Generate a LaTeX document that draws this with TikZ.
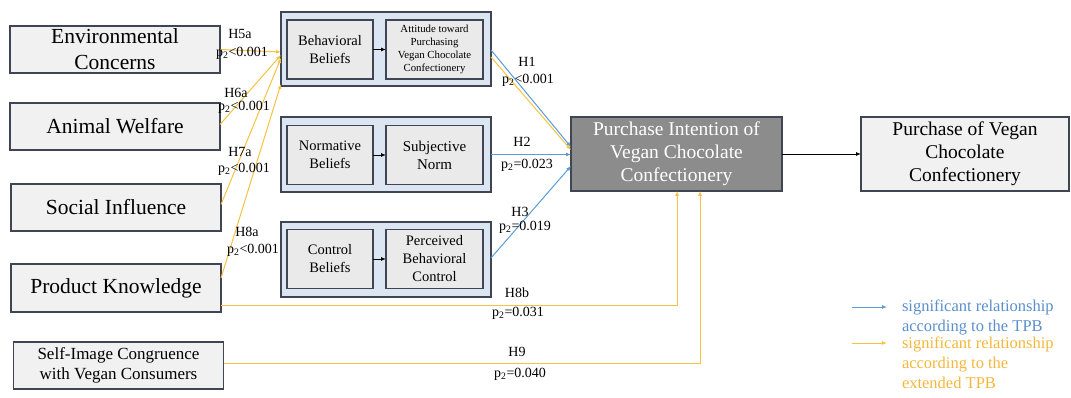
\documentclass[tikz,border=0pt]{standalone}
\usepackage{fontspec}
\setmainfont{Liberation Serif}
\usetikzlibrary{arrows.meta,calc}
\definecolor{tpbblue}{HTML}{5B9BD5}
\definecolor{tpbbluetext}{HTML}{5A8FCB}
\definecolor{extyellow}{HTML}{F5C242}
\definecolor{extyellowtext}{HTML}{F2B73C}
\definecolor{boxline}{HTML}{3F4553}
\definecolor{boxfill}{HTML}{F1F1F1}
\definecolor{groupfill}{HTML}{DCE6F2}
\definecolor{innerfill}{HTML}{EAEAEA}
\definecolor{intentfill}{HTML}{8C8C8C}
\begin{document}
\begin{tikzpicture}[x=1pt,y=-1pt,
  every node/.style={inner sep=0pt, outer sep=0pt},
  leftbox/.style={draw=boxline, line width=1.3pt, fill=boxfill, minimum width=210pt, minimum height=47pt, align=center, font=\fontsize{21.5}{26}\selectfont},
  groupbox/.style={draw=boxline, line width=1.2pt, fill=groupfill, minimum width=210pt, minimum height=75pt},
  innerbox/.style={draw=boxline, line width=1.3pt, fill=innerfill, minimum height=59pt, align=center, font=\fontsize{14.5}{18}\selectfont},
  bigbox/.style={draw=boxline, line width=1.3pt, minimum height=74pt, align=center, font=\fontsize{19.5}{23}\selectfont},
  lab/.style={font=\fontsize{14}{17}\selectfont},
  legtext/.style={anchor=west, align=left, font=\fontsize{16.5}{20}\selectfont},
  tip/.style={-{Latex[length=5pt,width=4pt]}},
  blueln/.style={tip, draw=tpbblue, line width=1pt},
  yellowln/.style={tip, draw=extyellow, line width=1pt},
  blackln/.style={tip, draw=black, line width=0.9pt}]
\useasboundingbox (0,0) rectangle (1071,398);

% antecedents
\node[leftbox] (env) at (115,49.5) {Environmental\\Concerns};
\node[leftbox] (aw)  at (115,126.5) {Animal Welfare};
\node[leftbox] (si)  at (116,207.5) {Social Influence};
\node[leftbox, minimum height=48pt] (kn) at (116,288) {Product Knowledge};
\node[leftbox, font=\fontsize{17}{20}\selectfont] (sic) at (118.5,365.5) {Self-Image Congruence\\with Vegan Consumers};

% belief groups
\node[groupbox, minimum height=74pt] (g1) at (386,49) {};
\node[groupbox] (g2) at (386,154.5) {};
\node[groupbox] (g3) at (386,259.5) {};

\node[innerbox, minimum width=86pt] (bb) at (330,49.5) {Behavioral\\Beliefs};
\node[innerbox, minimum width=97pt, font=\fontsize{10.8}{13}\selectfont] (att) at (434.5,49.5) {Attitude toward\\Purchasing\\Vegan Chocolate\\Confectionery};
\node[innerbox, minimum width=86pt] (nb) at (330,155) {Normative\\Beliefs};
\node[innerbox, minimum width=97pt, font=\fontsize{15}{18}\selectfont] (sn) at (434.5,155) {Subjective\\Norm};
\node[innerbox, minimum width=86pt] (cb) at (330,259) {Control\\Beliefs};
\node[innerbox, minimum width=97pt] (pbc) at (434.5,259) {Perceived\\Behavioral\\Control};

\draw[blackln] (bb) -- (att);
\draw[blackln] (nb) -- (sn);
\draw[blackln] (cb) -- (pbc);

% intention and behaviour
\node[bigbox, fill=intentfill, text=white, minimum width=211pt] (pi) at (676.5,154) {Purchase Intention of\\Vegan Chocolate\\Confectionery};
\node[bigbox, fill=boxfill, minimum width=208pt] (pv) at (965,154) {Purchase of Vegan\\Chocolate\\Confectionery};
\draw[blackln] (pi) -- (pv);

% extended TPB paths into attitude
\draw[yellowln] (env.east) -- ($(g1.west)+(0,3)$);
\draw[yellowln] ($(aw.east)+(0,-2)$) -- ($(g1.west)+(0,6)$);
\draw[yellowln] ($(si.east)+(0,-3)$) -- ($(g1.west)+(0,9)$);
\draw[yellowln] ($(kn.east)+(0,-10)$) -- ($(g1.south west)+(0,-2)$);

% TPB paths into intention
\draw[blueln] ($(g1.east)+(0,1)$) -- ($(pi.west)+(0,-7)$);
\draw[yellowln] ($(g1.east)+(0,8)$) -- ($(pi.west)+(0,-4)$);
\draw[blueln] (g2.east) -- (g2.east -| pi.west);
\draw[blueln] ($(g3.east)+(0,-1.5)$) -- ($(pi.west)+(0,12)$);

% direct paths into intention
\draw[yellowln] ($(kn.east)+(0,17.5)$) -| ($(pi.south)+(0.5,0)$);
\draw[yellowln] ($(sic.east)+(0,-2)$) -| ($(pi.south)+(23.5,0)$);

% path labels
\node[lab] at (240,34) {H5a};
\node[lab] at (242,53) {p\textsubscript{2}<0.001};
\node[lab] at (236,93) {H6a};
\node[lab] at (244,107) {p\textsubscript{2}<0.001};
\node[lab] at (240,152) {H7a};
\node[lab] at (244,169) {p\textsubscript{2}<0.001};
\node[lab] at (247,232) {H8a};
\node[lab] at (253,250) {p\textsubscript{2}<0.001};
\node[lab] at (527,62) {H1};
\node[lab] at (528,80) {p\textsubscript{2}<0.001};
\node[lab] at (522,142) {H2};
\node[lab] at (527,165) {p\textsubscript{2}=0.023};
\node[lab] at (520,212) {H3};
\node[lab] at (525,227) {p\textsubscript{2}=0.019};
\node[lab] at (517,293) {H8b};
\node[lab] at (518,313) {p\textsubscript{2}=0.031};
\node[lab] at (517,352) {H9};
\node[lab] at (520,374) {p\textsubscript{2}=0.040};

% legend
\coordinate (lb1) at (852,307);
\coordinate (lb2) at (887,307);
\coordinate (ly1) at (852,343);
\coordinate (ly2) at (887,343);
\draw[blueln] (lb1) -- (lb2);
\draw[yellowln] (ly1) -- (ly2);
\node[legtext, text=tpbbluetext] (legb) at (902,317) {significant relationship\\according to the TPB};
\node[legtext, text=extyellowtext] (legy) at (902,363) {significant relationship\\according to the\\extended TPB};
\end{tikzpicture}
\end{document}
